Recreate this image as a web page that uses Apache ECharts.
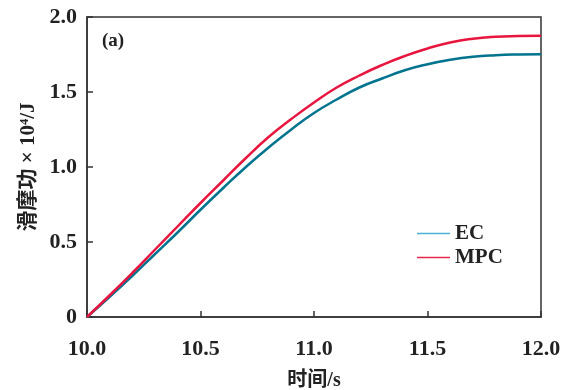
<!DOCTYPE html>
<html>
<head>
<meta charset="utf-8">
<script src="https://cdn.jsdelivr.net/npm/echarts@6/dist/echarts.min.js"></script>
<style>
  html, body { margin: 0; padding: 0; background: #fff; }
  #chart { width: 567px; height: 390px; }
</style>
</head>
<body>
<div id="chart"></div>
<script>
// time (s)
const times = [10.0, 10.1, 10.2, 10.3, 10.4, 10.5, 10.6, 10.7, 10.8, 10.9, 11.0,
  11.1, 11.2, 11.3, 11.4, 11.5, 11.6, 11.7, 11.8, 11.9, 12.0];
// slip work x10^4 J
const ecValues = [0, 0.135, 0.275, 0.42, 0.565, 0.715, 0.86, 1.0, 1.13, 1.25, 1.36,
  1.45, 1.53, 1.59, 1.645, 1.685, 1.715, 1.735, 1.745, 1.75, 1.752];
const mpcValues = [0, 0.145, 0.295, 0.45, 0.605, 0.76, 0.91, 1.06, 1.2, 1.32, 1.43,
  1.53, 1.61, 1.68, 1.74, 1.79, 1.83, 1.855, 1.868, 1.873, 1.875];

const serif = '"Liberation Serif", "Noto Sans CJK SC", serif';
const chart = echarts.init(document.getElementById('chart'));

const toPairs = (ys) => times.map((t, i) => [t, ys[i]]);

chart.setOption({
  animation: false,
  grid: {
    left: 87, right: 26, top: 17, bottom: 73,
    outerBoundsMode: 'none',
    show: true, borderColor: '#333', borderWidth: 1.5
  },
  title: {
    text: '(a)', left: 97, top: 27,
    textStyle: { fontFamily: serif, fontSize: 19, fontWeight: 'bold', color: '#222' }
  },
  legend: {
    orient: 'vertical', left: 412, top: 218,
    itemWidth: 33, itemHeight: 10, itemGap: 3,
    textStyle: { fontFamily: serif, fontSize: 21, fontWeight: 'bold', color: '#222' },
    data: [
      { name: 'EC', icon: 'path://M0,0L32,0L32,1.5L0,1.5Z', itemStyle: { color: '#4cb2d6' } },
      { name: 'MPC', icon: 'path://M0,0L32,0L32,1.5L0,1.5Z', itemStyle: { color: '#e8294a' } }
    ]
  },
  xAxis: {
    type: 'value', min: 10, max: 12, interval: 0.5,
    name: '时间/s', nameLocation: 'middle', nameGap: 54,
    nameTextStyle: { fontFamily: serif, fontSize: 20, fontWeight: 'bold', color: '#222' },
    axisLine: { lineStyle: { color: '#333', width: 1.5 } },
    axisTick: { inside: true, length: 6, lineStyle: { color: '#333', width: 1.5 } },
    axisLabel: {
      margin: 21, fontFamily: serif, fontSize: 22, fontWeight: 'bold', color: '#222',
      formatter: (v) => v.toFixed(1)
    },
    splitLine: { show: false }
  },
  yAxis: {
    type: 'value', min: 0, max: 2, interval: 0.5,
    name: '滑摩功 × 10⁴/J', nameLocation: 'middle', nameGap: 47,
    nameTextStyle: { fontFamily: serif, fontSize: 21, fontWeight: 'bold', color: '#222' },
    axisLine: { lineStyle: { color: '#333', width: 1.5 } },
    axisTick: { inside: true, length: 6, lineStyle: { color: '#333', width: 1.5 } },
    axisLabel: {
      margin: 10, fontFamily: serif, fontSize: 22, fontWeight: 'bold', color: '#222',
      formatter: (v) => (v === 0 ? '0' : v.toFixed(1))
    },
    splitLine: { show: false }
  },
  series: [
    {
      name: 'EC', type: 'line', smooth: true, symbol: 'none',
      data: toPairs(ecValues),
      lineStyle: { color: '#00738f', width: 2.5 },
      itemStyle: { color: '#00738f' }
    },
    {
      name: 'MPC', type: 'line', smooth: true, symbol: 'none',
      data: toPairs(mpcValues),
      lineStyle: { color: '#e8163f', width: 2.5 },
      itemStyle: { color: '#e8163f' }
    }
  ]
});
</script>
</body>
</html>
